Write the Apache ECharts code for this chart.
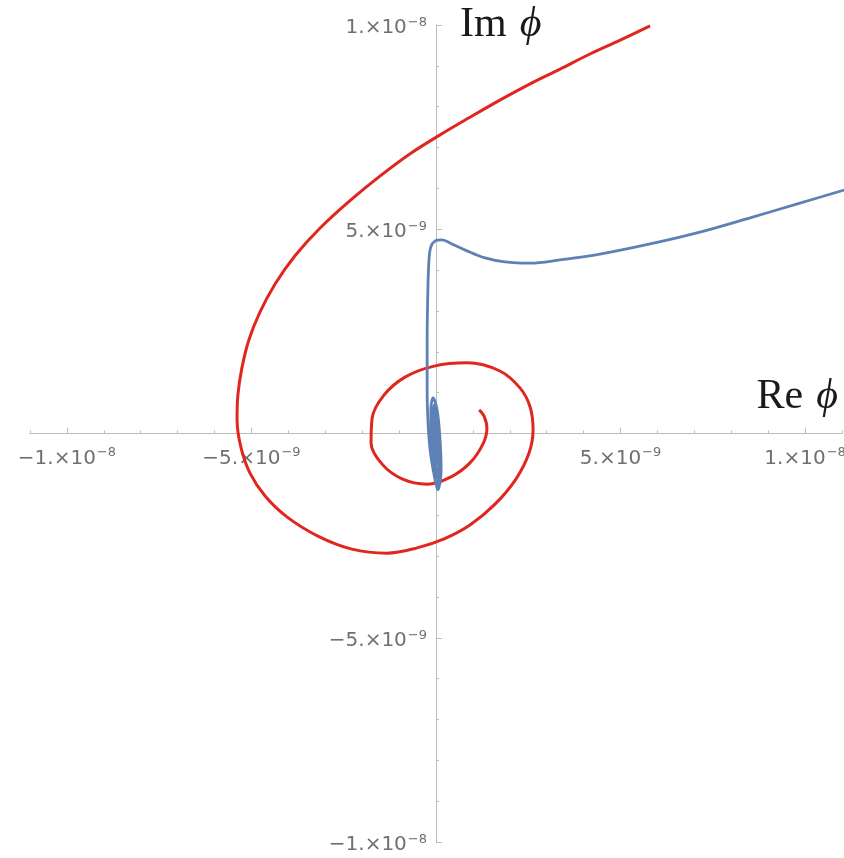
<!DOCTYPE html>
<html>
<head>
<meta charset="utf-8">
<script src="https://cdn.jsdelivr.net/npm/echarts@6/dist/echarts.min.js"></script>
<style>
  html, body { margin: 0; padding: 0; background: #ffffff; }
  #chart { width: 844px; height: 858px; }
</style>
</head>
<body>
<div id="chart"></div>
<script>
// Values are in units of 1e-9 (Re φ, Im φ).
const redRe = [5.80, 4.99, 4.17, 3.36, 2.55, 1.73, 0.92, 0.11, -0.70, -1.52, -2.33, -3.14, -3.82, -4.36, -4.77, -5.07, -5.26, -5.37, -5.39, -5.28, -5.04, -4.63, -4.04, -3.20, -2.28, -1.33, -0.51, 0.22, 0.92, 1.60, 2.17, 2.52, 2.63, 2.55, 2.28, 1.73, 0.84, -0.05, -0.84, -1.41, -1.73, -1.76, -1.46, -0.92, -0.24, 0.41, 0.92, 1.27, 1.38, 1.30, 1.17];
const redIm = [9.98, 9.63, 9.29, 8.92, 8.56, 8.16, 7.74, 7.31, 6.85, 6.30, 5.70, 5.03, 4.35, 3.66, 2.97, 2.29, 1.60, 0.92, 0.33, -0.36, -0.97, -1.53, -2.04, -2.51, -2.83, -2.93, -2.80, -2.58, -2.24, -1.73, -1.11, -0.48, 0.09, 0.65, 1.11, 1.53, 1.73, 1.65, 1.38, 0.94, 0.38, -0.23, -0.75, -1.11, -1.24, -1.06, -0.72, -0.26, 0.13, 0.43, 0.58];

const blueRe = [11.06, 9.86, 8.51, 7.15, 5.80, 4.44, 3.36, 2.55, 1.87, 1.33, 0.84, 0.43, 0.16, -0.03, -0.14, -0.19, -0.22, -0.24, -0.24, -0.22, -0.16, -0.05, 0.05, 0.14, 0.11, 0.03, -0.08, -0.14, -0.11, 0.03, 0.11, 0.05, -0.05, -0.08, -0.05, 0.03, 0.08, 0.03, -0.03, -0.03, 0.00, 0.03, 0.00];
const blueIm = [5.96, 5.64, 5.28, 4.93, 4.64, 4.39, 4.25, 4.17, 4.20, 4.30, 4.47, 4.64, 4.74, 4.71, 4.57, 4.25, 3.51, 2.29, 1.06, 0.33, -0.40, -1.02, -1.38, -0.89, -0.16, 0.58, 0.87, 0.58, -0.28, -1.26, -0.65, 0.21, 0.70, 0.33, -0.40, -1.09, -0.53, 0.21, 0.53, -0.16, -0.77, -0.28, 0.09];

// Axis ranges and tick labels (value in 1e-9 units -> mantissa, exponent)
const reRange = [-11, 11];
const imRange = [-10, 10];
const labelValues = [-10, -5, 5, 10];
const labelMantissa = ['\u22121.', '\u22125.', '5.', '1.'];
const labelExponent = ['\u22128', '\u22129', '\u22129', '\u22128'];
const majorTicks = [-10, -5, 5, 10];

const W = 844, H = 858;
const gridBox = { left: 30, right: 2, top: 25, bottom: 16 };
const plotW = W - gridBox.left - gridBox.right;
const plotH = H - gridBox.top - gridBox.bottom;
// Shift the axes inward so that they cross at the origin.
const yAxisShift = -plotW * (0 - reRange[0]) / (reRange[1] - reRange[0]);
const xAxisShift = -plotH * (0 - imRange[0]) / (imRange[1] - imRange[0]);

const pairs = (xs, ys) => xs.map((x, i) => [x, ys[i]]);

function tickLabel(v) {
  const i = labelValues.indexOf(Math.round(v));
  if (i < 0 || Math.abs(v - labelValues[i]) > 1e-6) return '';
  return '{m|' + labelMantissa[i] + '\u00d710}{e|' + labelExponent[i] + '}';
}

const labelRich = {
  m: { fontFamily: 'DejaVu Sans', fontSize: 20, color: '#707070', lineHeight: 26, verticalAlign: 'bottom' },
  e: { fontFamily: 'DejaVu Sans', fontSize: 13, color: '#707070', lineHeight: 26, verticalAlign: 'top', padding: [4, 0, 0, 1] }
};
const nameRich = {
  r: { fontFamily: 'Liberation Serif', fontSize: 42, color: '#1a1a1a' },
  i: { fontFamily: 'Liberation Serif', fontStyle: 'italic', fontSize: 42, color: '#1a1a1a', padding: [0, 0, 0, 13] }
};
const axisGray = '#bdbdbd';

const chart = echarts.init(document.getElementById('chart'), null, { renderer: 'canvas' });

chart.setOption({
  animation: false,
  backgroundColor: '#ffffff',
  grid: Object.assign({ containLabel: false, outerBoundsMode: 'none' }, gridBox),
  xAxis: [
    {
      type: 'value', position: 'bottom', offset: xAxisShift, min: reRange[0], max: reRange[1], interval: 1,
      name: '{r|Re}{i|\u03d5}',
      nameLocation: 'end', nameGap: -4,
      nameTextStyle: { align: 'right', verticalAlign: 'bottom', padding: [0, 0, 16, 0], rich: nameRich },
      axisLine: { show: true, onZero: false, lineStyle: { color: axisGray, width: 1 } },
      axisTick: { show: true, inside: true, length: 3, lineStyle: { color: axisGray } },
      axisLabel: { show: true, customValues: labelValues, formatter: tickLabel, rich: labelRich, margin: 9 },
      splitLine: { show: false }
    },
    {
      type: 'value', position: 'bottom', offset: xAxisShift, min: reRange[0], max: reRange[1],
      axisLine: { show: false, onZero: false },
      axisTick: { show: true, inside: true, length: 6, customValues: majorTicks, lineStyle: { color: axisGray } },
      axisLabel: { show: false },
      splitLine: { show: false }
    }
  ],
  yAxis: {
    type: 'value', position: 'left', offset: yAxisShift, min: imRange[0], max: imRange[1], interval: 5,
    name: '{r|Im}{i|\u03d5}',
    nameLocation: 'end', nameGap: 0,
    nameTextStyle: { align: 'left', verticalAlign: 'middle', padding: [0, 0, 0, 24], rich: nameRich },
    axisLine: { show: true, onZero: false, lineStyle: { color: axisGray, width: 1 } },
    axisTick: { show: true, inside: true, length: 6, lineStyle: { color: axisGray } },
    minorTick: { show: true, splitNumber: 5, length: 3, lineStyle: { color: axisGray } },
    axisLabel: { show: true, formatter: tickLabel, rich: labelRich, margin: 9 },
    splitLine: { show: false },
    minorSplitLine: { show: false }
  },
  series: [
    {
      type: 'line', name: 'red', data: pairs(redRe, redIm), xAxisIndex: 0,
      showSymbol: false, symbol: 'none', smooth: 0.35, clip: true,
      lineStyle: { color: '#e0261f', width: 3 }, z: 2
    },
    {
      type: 'line', name: 'blue', data: pairs(blueRe, blueIm), xAxisIndex: 0,
      showSymbol: false, symbol: 'none', smooth: 0.35, clip: true,
      lineStyle: { color: '#5e81b5', width: 2.8 }, z: 3
    }
  ]
});
</script>
</body>
</html>
